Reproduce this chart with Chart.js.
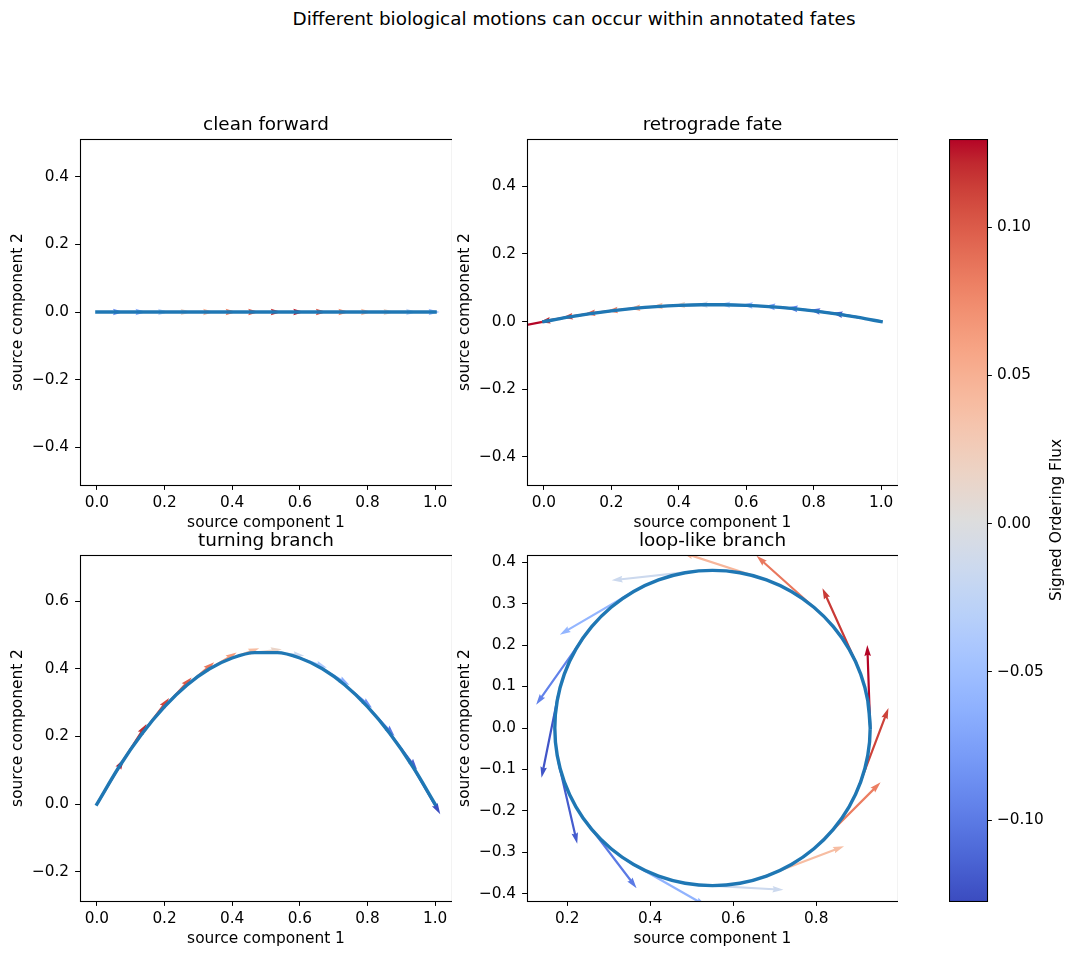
<!DOCTYPE html>
<html><head><meta charset="utf-8">
<script src="https://cdn.jsdelivr.net/npm/chart.js@4.4.1/dist/chart.umd.min.js"></script>
<style>
html,body{margin:0;padding:0;background:#fff;}
body{width:1076px;height:959px;position:relative;overflow:hidden;font-family:'DejaVu Sans',sans-serif;}
canvas{position:absolute;}
#sup{position:absolute;left:0;width:1148px;top:7.6px;text-align:center;font-size:18.4px;line-height:22px;color:#000;white-space:nowrap;}
</style></head><body>
<div id="sup">Different biological motions can occur within annotated fates</div>
<canvas id="p1"></canvas><canvas id="p2"></canvas><canvas id="p3"></canvas><canvas id="p4"></canvas><canvas id="cb"></canvas>
<script>
// ---------------- data ----------------
const GRID_X = [0, 0.0667, 0.1333, 0.2, 0.2667, 0.3333, 0.4, 0.4667, 0.5333, 0.6, 0.6667, 0.7333, 0.8, 0.8667, 0.9333, 1];
const FORWARD_Y = [0,0,0,0,0,0,0,0,0,0,0,0,0,0,0,0];
const RETRO_Y = [0, 0.0124, 0.0231, 0.032, 0.0391, 0.0444, 0.048, 0.0498, 0.0498, 0.048, 0.0444, 0.0391, 0.032, 0.0231, 0.0124, 0];
const TURN_Y = [0, 0.112, 0.208, 0.288, 0.352, 0.4, 0.432, 0.448, 0.448, 0.432, 0.4, 0.352, 0.288, 0.208, 0.112, 0];
const LOOP_X = [0.93,0.9242,0.9071,0.8791,0.8411,0.7943,0.74,0.68,0.616,0.55,0.484,0.42,0.36,0.3057,0.2589,0.2209,0.1929,0.1758,0.17,0.1758,0.1929,0.2209,0.2589,0.3057,0.36,0.42,0.484,0.55,0.616,0.68,0.74,0.7943,0.8411,0.8791,0.9071,0.9242,0.93,0.9242];
const LOOP_Y = [0,0.066,0.13,0.19,0.2443,0.2911,0.3291,0.3571,0.3742,0.38,0.3742,0.3571,0.3291,0.2911,0.2443,0.19,0.13,0.066,0,-0.066,-0.13,-0.19,-0.2443,-0.2911,-0.3291,-0.3571,-0.3742,-0.38,-0.3742,-0.3571,-0.3291,-0.2911,-0.2443,-0.19,-0.13,-0.066,0,0.066];

// arrows (tail positions, vector components, flux)
const FWD_AX = [0, 0.0667, 0.1333, 0.2, 0.2667, 0.3333, 0.4, 0.4667, 0.5333, 0.6, 0.6667, 0.7333, 0.8, 0.8667, 0.9333];
const FWD_AY = [0,0,0,0,0,0,0,0,0,0,0,0,0,0,0];
const FWD_U = [0.08,0.08,0.08,0.08,0.08,0.08,0.08,0.08,0.08,0.08,0.08,0.08,0.08,0.08,0.08];
const FWD_V = [0,0,0,0,0,0,0,0,0,0,0,0,0,0,0];
const FWD_FLUX = [-0.09,-0.065,-0.03,0.015,0.05,0.08,0.1,0.12,0.125,0.105,0.075,0.045,0.015,-0.025,-0.055];

const RET_AX = [0, 0.0667, 0.1333, 0.2, 0.2667, 0.3333, 0.4, 0.4667, 0.5333, 0.6, 0.6667, 0.7333, 0.8, 0.8667, 0.9333];
const RET_AY = [0, 0.0124, 0.0231, 0.032, 0.0391, 0.0444, 0.048, 0.0498, 0.0498, 0.048, 0.0444, 0.0391, 0.032, 0.0231, 0.0124];
const RET_U = [-0.08,-0.08,-0.08,-0.08,-0.08,-0.08,-0.08,-0.08,-0.08,-0.08,-0.08,-0.08,-0.08,-0.08,-0.08];
const RET_V = [-0.0149,-0.0139,-0.0117,-0.0096,-0.0075,-0.0053,-0.0032,-0.0011,0.0011,0.0032,0.0053,0.0075,0.0096,0.0117,0.0139];
const RET_FLUX = [0.13,0.12,0.11,0.095,0.08,0.06,0.04,0.015,-0.01,-0.035,-0.06,-0.08,-0.095,-0.11,-0.12];

const TURN_AX = [0, 0.0667, 0.1333, 0.2, 0.2667, 0.3333, 0.4, 0.4667, 0.5333, 0.6, 0.6667, 0.7333, 0.8, 0.8667, 0.9333];
const TURN_AY = [0, 0.112, 0.208, 0.288, 0.352, 0.4, 0.432, 0.448, 0.448, 0.432, 0.4, 0.352, 0.288, 0.208, 0.112];
const TURN_U = [0.08,0.08,0.08,0.08,0.08,0.08,0.08,0.08,0.08,0.08,0.08,0.08,0.08,0.08,0.082];
const TURN_V = [0.1344,0.1248,0.1056,0.0864,0.0672,0.048,0.0288,0.0096,-0.0096,-0.0288,-0.048,-0.0672,-0.0864,-0.1056,-0.142];
const TURN_FLUX = [0.125,0.12,0.11,0.1,0.085,0.065,0.04,0.015,-0.015,-0.04,-0.065,-0.085,-0.1,-0.115,-0.127];

const LOOP_AX = [0.93,0.897,0.804,0.667,0.51,0.36,0.243,0.178,0.178,0.243,0.36,0.51,0.667,0.804,0.897];
const LOOP_AY = [0,0.155,0.282,0.361,0.378,0.329,0.223,0.079,-0.079,-0.223,-0.329,-0.378,-0.361,-0.282,-0.155];
const LOOP_U = [-0.007,-0.082,-0.148,-0.19,-0.203,-0.178,-0.118,-0.04,0.046,0.124,0.175,0.211,0.2,0.151,0.077];
const LOOP_V = [0.2,0.182,0.133,0.062,-0.022,-0.104,-0.167,-0.199,-0.2,-0.163,-0.1,-0.012,0.076,0.151,0.203];
const LOOP_FLUX = [0.1297,0.115,0.085,0.045,-0.015,-0.058,-0.095,-0.122,-0.118,-0.1,-0.06,-0.015,0.04,0.082,0.112];

// ticks
const X_TICKS = [0, 0.2, 0.4, 0.6, 0.8, 1.0];
const X_TICKS_LOOP = [0.2, 0.4, 0.6, 0.8];
const Y_TICKS_FWD = [-0.4, -0.2, 0, 0.2, 0.4];
const Y_TICKS_RET = [-0.4, -0.2, 0, 0.2, 0.4];
const Y_TICKS_TURN = [-0.2, 0, 0.2, 0.4, 0.6];
const Y_TICKS_LOOP = [-0.4, -0.3, -0.2, -0.1, 0, 0.1, 0.2, 0.3, 0.4];
const CB_TICKS = [-0.10, -0.05, 0.00, 0.05, 0.10];
const CB_MIN = -0.1273, CB_MAX = 0.1297;

// ---------------- style ----------------
const COOLWARM = [[59,76,192],[68,90,204],[77,104,215],[87,117,225],[98,130,234],[108,142,241],[119,154,247],[130,165,251],[141,176,254],[152,185,255],[163,194,255],[174,201,253],[184,208,249],[194,213,244],[204,217,238],[213,219,230],[221,221,221],[229,216,209],[236,211,197],[241,204,185],[245,196,173],[247,187,160],[247,177,148],[247,166,135],[244,154,123],[241,141,111],[236,127,99],[229,112,88],[222,96,77],[213,80,66],[203,62,56],[192,40,47],[180,4,38]];
function cmap(v){
  let t=(v-CB_MIN)/(CB_MAX-CB_MIN); t=Math.max(0,Math.min(1,t));
  const f=t*32, i=Math.min(31,Math.floor(f)), r=f-i, a=COOLWARM[i], b=COOLWARM[i+1];
  return 'rgb('+a.map((c,k)=>Math.round(c+(b[k]-c)*r)).join(',')+')';
}
const FS = 15.3, LFS = 15.4, TFS = 18.4;
Chart.defaults.font.family = "'DejaVu Sans', sans-serif";
Chart.defaults.font.size = FS;
Chart.defaults.color = '#000';
const fmt = (v,d) => (Math.abs(v)<1e-9 ? (0).toFixed(d) : Number(v).toFixed(d)).replace('-', '\u2212');
const zeroPad = s => { s.paddingLeft=0; s.paddingRight=0; s.paddingTop=0; s.paddingBottom=0; };

function drawArrow(ctx,x0,y0,x1,y1,color){
  const dx=x1-x0, dy=y1-y0, L=Math.hypot(dx,dy); if(L<0.5) return;
  const w=2.2; let hl=5*w, hal=4.5*w; const hw=1.5*w;
  if(L<hl){ const s=L/hl; hl*=s; hal*=s; }
  ctx.save(); ctx.translate(x0,y0); ctx.rotate(Math.atan2(dy,dx));
  ctx.beginPath();
  ctx.moveTo(0,-w/2); ctx.lineTo(L-hal,-w/2); ctx.lineTo(L-hl,-hw); ctx.lineTo(L,0);
  ctx.lineTo(L-hl,hw); ctx.lineTo(L-hal,w/2); ctx.lineTo(0,w/2); ctx.closePath();
  ctx.fillStyle=color; ctx.fill(); ctx.restore();
}
function quiverPlugin(q){
  return { id:'quiver', beforeDatasetsDraw(chart){
    const {ctx, chartArea:a, scales:{x,y}} = chart;
    ctx.save(); ctx.beginPath(); ctx.rect(a.left,a.top,a.right-a.left,a.bottom-a.top); ctx.clip();
    q.ax.forEach((x0,i)=>{
      drawArrow(ctx, x.getPixelForValue(x0), y.getPixelForValue(q.ay[i]),
        x.getPixelForValue(x0+q.u[i]), y.getPixelForValue(q.ay[i]+q.v[i]), cmap(q.c[i]));
    });
    ctx.restore();
  }};
}
const framePlugin = { id:'frame', afterDatasetsDraw(chart){
  const {ctx, chartArea:a} = chart;
  ctx.save(); ctx.strokeStyle='#000'; ctx.lineWidth=1.1;
  ctx.strokeRect(Math.round(a.left)+0.5, Math.round(a.top)+0.5, Math.round(a.right-a.left), Math.round(a.bottom-a.top));
  ctx.restore();
}};

function makePanel(id, box, spec){
  const WY=80, HX=50, TH=25;
  const cv=document.getElementById(id);
  cv.width=WY+box.w; cv.height=TH+box.h+HX;
  cv.style.left=(box.l-WY)+'px'; cv.style.top=(box.t-TH)+'px';
  new Chart(cv, {
    type:'scatter',
    data:{datasets:[{data:spec.lx.map((x,i)=>({x, y:spec.ly[i]})), showLine:true, pointRadius:0,
      borderColor:'#1f77b4', borderWidth:3.4, borderCapStyle:'square', borderJoinStyle:'round',
      tension:spec.tension||0, cubicInterpolationMode:spec.mono?'monotone':'default', fill:false}]},
    options:{ responsive:false, animation:false, events:[], layout:{padding:0},
      plugins:{ legend:{display:false}, tooltip:{enabled:false},
        title:{display:true, text:spec.title, fullSize:false, color:'#000',
          font:{size:TFS, weight:'normal', lineHeight:'22px'}, padding:{top:0,bottom:3}} },
      scales:{
        x:{ type:'linear', position:'bottom', min:spec.xr[0], max:spec.xr[1],
          afterBuildTicks:s=>{ s.ticks=spec.xt.map(v=>({value:v})); },
          afterFit:s=>{ s.height=HX; zeroPad(s); },
          grid:{drawOnChartArea:false, drawTicks:true, tickLength:4.9, tickColor:'#000', tickWidth:1, color:'#000'},
          border:{display:false},
          ticks:{padding:3.5, autoSkip:false, maxRotation:0, minRotation:0, color:'#000', font:{size:FS}, callback:v=>fmt(v,1)},
          title:{display:true, text:'source component 1', color:'#000', font:{size:LFS}, padding:{top:0,bottom:2.3}} },
        y:{ type:'linear', position:'left', min:spec.yr[0], max:spec.yr[1],
          afterBuildTicks:s=>{ s.ticks=spec.yt.map(v=>({value:v})); },
          afterFit:s=>{ s.width=WY; zeroPad(s); },
          grid:{drawOnChartArea:false, drawTicks:true, tickLength:4.9, tickColor:'#000', tickWidth:1, color:'#000'},
          border:{display:false},
          ticks:{padding:6, autoSkip:false, color:'#000', font:{size:FS}, callback:v=>fmt(v,1)},
          title:{display:true, text:'source component 2', color:'#000', font:{size:LFS}, padding:{top:8.5,bottom:0}} }
      }
    },
    plugins:[quiverPlugin(spec.q), framePlugin]
  });
}

makePanel('p1', {l:80,t:139,w:372,h:346}, {title:'clean forward', lx:GRID_X, ly:FORWARD_Y,
  xr:[-0.05,1.05], yr:[-0.5115,0.5115], xt:X_TICKS, yt:Y_TICKS_FWD,
  q:{ax:FWD_AX, ay:FWD_AY, u:FWD_U, v:FWD_V, c:FWD_FLUX}});
makePanel('p2', {l:527,t:139,w:371,h:346}, {title:'retrograde fate', lx:GRID_X, ly:RETRO_Y, mono:true,
  xr:[-0.05,1.05], yr:[-0.483,0.540], xt:X_TICKS, yt:Y_TICKS_RET,
  q:{ax:RET_AX, ay:RET_AY, u:RET_U, v:RET_V, c:RET_FLUX}});
makePanel('p3', {l:80,t:555,w:372,h:346}, {title:'turning branch', lx:GRID_X, ly:TURN_Y, mono:true,
  xr:[-0.05,1.05], yr:[-0.2865,0.7365], xt:X_TICKS, yt:Y_TICKS_TURN,
  q:{ax:TURN_AX, ay:TURN_AY, u:TURN_U, v:TURN_V, c:TURN_FLUX}});
makePanel('p4', {l:527,t:555,w:371,h:346}, {title:'loop-like branch', lx:LOOP_X, ly:LOOP_Y, tension:0.335,
  xr:[0.103,0.997], yr:[-0.417,0.417], xt:X_TICKS_LOOP, yt:Y_TICKS_LOOP,
  q:{ax:LOOP_AX, ay:LOOP_AY, u:LOOP_U, v:LOOP_V, c:LOOP_FLUX}});

// ---------------- colorbar ----------------
(function(){
  const cv=document.getElementById('cb');
  cv.width=127; cv.height=763; cv.style.left='949px'; cv.style.top='139px';
  const gradPlugin={id:'grad', beforeDatasetsDraw(chart){
    const {ctx, chartArea:a}=chart;
    const g=ctx.createLinearGradient(0,a.bottom,0,a.top);
    COOLWARM.forEach((c,i)=>g.addColorStop(i/32,'rgb('+c.join(',')+')'));
    ctx.save(); ctx.fillStyle=g; ctx.fillRect(a.left,a.top,a.right-a.left,a.bottom-a.top); ctx.restore();
  }};
  const labelPlugin={id:'cblabel', afterDraw(chart){
    const {ctx, chartArea:a}=chart;
    ctx.save(); ctx.translate(a.right+70,(a.top+a.bottom)/2); ctx.rotate(-Math.PI/2);
    ctx.font=LFS+"px 'DejaVu Sans'"; ctx.fillStyle='#000'; ctx.textAlign='center'; ctx.textBaseline='middle';
    ctx.fillText('Signed Ordering Flux',0,0); ctx.restore();
  }};
  new Chart(cv,{
    type:'scatter', data:{datasets:[{data:[]}]},
    options:{responsive:false, animation:false, events:[], layout:{padding:{bottom:1}},
      plugins:{legend:{display:false}, tooltip:{enabled:false}},
      scales:{
        x:{display:false, min:0, max:1},
        y:{position:'right', min:CB_MIN, max:CB_MAX,
          afterBuildTicks:s=>{ s.ticks=CB_TICKS.map(v=>({value:v})); },
          afterFit:s=>{ s.width=89; zeroPad(s); },
          grid:{drawOnChartArea:false, drawTicks:true, tickLength:4.9, tickColor:'#000', tickWidth:1, color:'#000'},
          border:{display:false},
          ticks:{padding:5, autoSkip:false, color:'#000', font:{size:FS}, callback:v=>fmt(v,2)}}
      }},
    plugins:[gradPlugin, framePlugin, labelPlugin]
  });
})();
</script>
</body></html>
